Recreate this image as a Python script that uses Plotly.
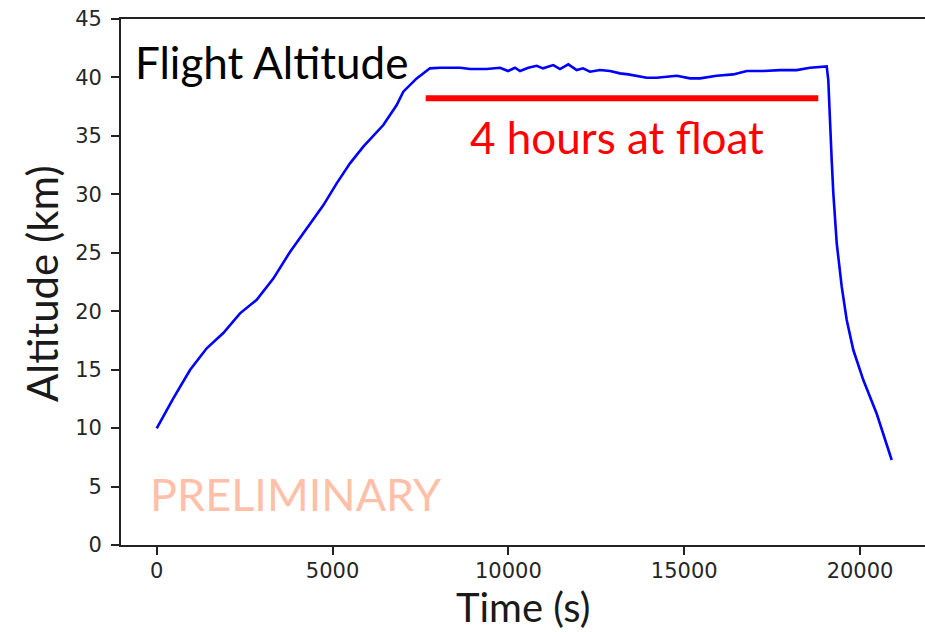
import plotly.graph_objects as go

# Flight altitude data
time_s = [0, 472, 947, 1422, 1894, 2369, 2844, 3316, 3790, 4265, 4737, 5118, 5497,
          5875, 6444, 6825, 7012, 7393, 7771, 8056, 8625, 8909, 9384,
          9762, 9990, 10189, 10331, 10567, 10806, 10985, 11278, 11468, 11704, 11943,
          12122, 12321, 12606, 12890, 13174, 13410, 13649, 13934, 14218, 14502, 14787,
          15165, 15450, 15924, 16396, 16777, 17249, 17724, 18199, 18577, 18955, 19052,
          19097, 19146, 19194, 19240, 19337, 19479, 19621, 19809, 20093, 20474, 20900]
altitude_km = [9.98, 12.55, 14.97, 16.83, 18.13, 19.82, 20.98, 22.79, 25.07, 27.07, 29.06,
               30.94, 32.65, 34.08, 35.93, 37.64, 38.78, 39.92, 40.78, 40.83,
               40.83, 40.72, 40.72, 40.83, 40.55, 40.83, 40.55, 40.83, 41.00, 40.78, 41.06,
               40.72, 41.12, 40.63, 40.78, 40.49, 40.63, 40.55, 40.35, 40.26, 40.15, 39.97,
               39.97, 40.06, 40.15, 39.92, 39.92, 40.15, 40.26, 40.55, 40.55, 40.63, 40.63,
               40.83, 40.92, 40.95, 39.78, 35.78, 32.93, 30.09, 25.81, 22.10, 19.25, 16.68,
               14.11, 11.23, 7.27]

float_time = [7649, 18813]
float_alt = [38.21, 38.21]

x_ticks = [0, 5000, 10000, 15000, 20000]
x_tick_labels = ["0", "5000", "10000", "15000", "20000"]
y_ticks = [0, 5, 10, 15, 20, 25, 30, 35, 40, 45]
y_tick_labels = ["0", "5", "10", "15", "20", "25", "30", "35", "40", "45"]

fig = go.Figure()
fig.add_trace(go.Scatter(x=time_s, y=altitude_km, mode="lines",
                         line=dict(color="#0000ff", width=2.6), showlegend=False))
fig.add_trace(go.Scatter(x=float_time, y=float_alt, mode="lines",
                         line=dict(color="#ff0000", width=6), showlegend=False))

title_font = "Lato, 'Noto Sans', sans-serif"

fig.add_annotation(x=-674, y=41.3, xref="x", yref="y", text="Flight Altitude",
                   showarrow=False, xanchor="left", yanchor="middle",
                   font=dict(family=title_font, size=44, color="#000000"))
fig.add_annotation(x=13089, y=34.9, xref="x", yref="y", text="4 hours at float",
                   showarrow=False, xanchor="center", yanchor="middle",
                   font=dict(family=title_font, size=44, color="#ff0000"))
fig.add_annotation(x=-239, y=4.36, xref="x", yref="y", text="PRELIMINARY",
                   showarrow=False, xanchor="left", yanchor="middle",
                   font=dict(family=title_font, size=45, color="#ffbfa8"))
fig.add_annotation(x=0.5, y=-0.1654, xref="paper", yref="paper", text="Time (s)",
                   showarrow=False, xanchor="center", yanchor="bottom", borderpad=0,
                   font=dict(family=title_font, size=40, color="#1a1a1a"))
fig.add_annotation(x=-0.0983, y=0.498, xref="paper", yref="paper", text="Altitude (km)",
                   showarrow=False, xanchor="center", yanchor="middle", textangle=-90,
                   font=dict(family=title_font, size=42, color="#1a1a1a"))

axis_common = dict(showgrid=False, zeroline=False, showline=True, linecolor="#222222",
                   linewidth=1.8, ticks="outside", ticklen=8, tickwidth=1.5,
                   tickcolor="#222222",
                   tickfont=dict(family="DejaVu Sans", size=21, color="#262626"))

fig.update_layout(
    width=925, height=632,
    margin=dict(l=121, r=0, t=19, b=87),
    paper_bgcolor="white", plot_bgcolor="white",
    xaxis=dict(range=[-1015, 21847], tickvals=x_ticks, ticktext=x_tick_labels,
               mirror=True, ticklabelstandoff=-2, **axis_common),
    yaxis=dict(range=[0, 45], tickvals=y_ticks, ticktext=y_tick_labels,
               mirror=False, ticklabelstandoff=5, **axis_common),
)

fig.write_html("out.html")
